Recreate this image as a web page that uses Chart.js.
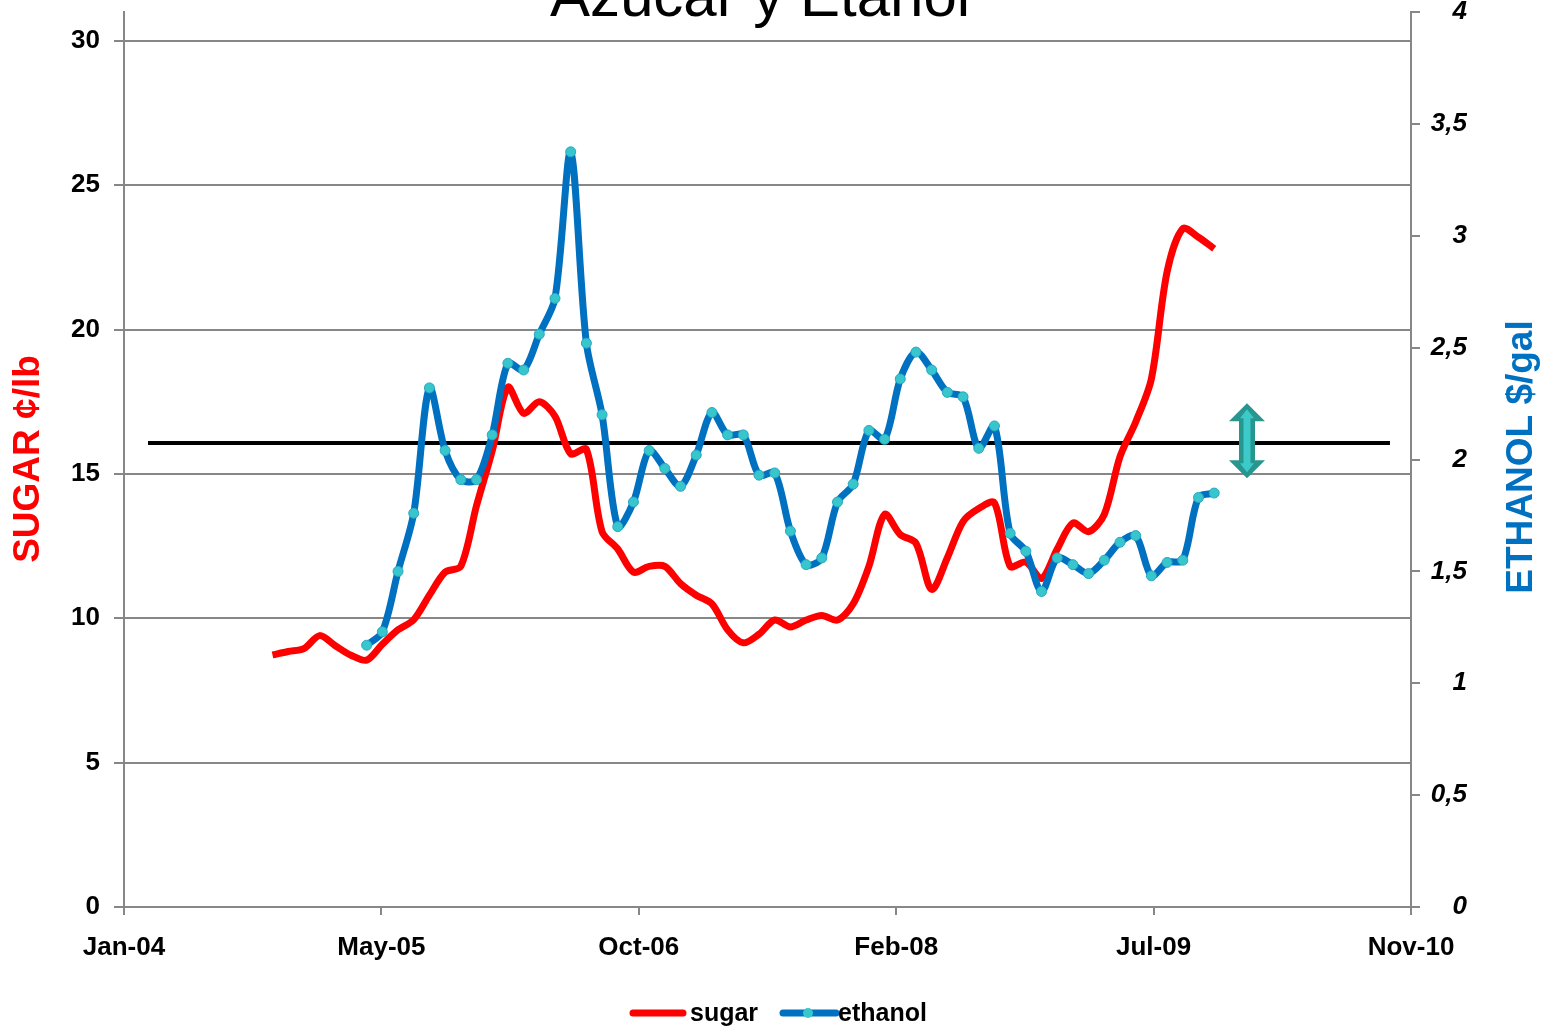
<!DOCTYPE html>
<html>
<head>
<meta charset="utf-8">
<script src="https://cdn.jsdelivr.net/npm/chart.js@4.4.1/dist/chart.umd.min.js"></script>
<style>
  html, body { margin: 0; padding: 0; background: #fff; }
  canvas { display: block; }
</style>
</head>
<body>
<canvas id="chart" width="1547" height="1028"></canvas>
<script>
// months counted from Jan-04
const xTickMonths = [0, 16.4, 32.8, 49.2, 65.6, 82];
const xTickLabels = ['Jan-04', 'May-05', 'Oct-06', 'Feb-08', 'Jul-09', 'Nov-10'];

const sugarTicks = [0, 5, 10, 15, 20, 25, 30];
const ethanolTicks = [0, 0.5, 1, 1.5, 2, 2.5, 3, 3.5, 4];

// monthly sugar, Oct-04 .. Oct-09 (c/lb)
const sugarStart = 9.46;
const sugar = [
    8.73, 8.85, 8.95, 9.4, 9.05, 8.72, 8.55, 9.1, 9.6, 9.95,
    10.8, 11.6, 11.8, 13.9, 15.8, 18.0, 17.1, 17.5, 17.0, 15.7,
    15.85, 13.0, 12.4, 11.6, 11.8, 11.8, 11.2, 10.8, 10.5, 9.6,
    9.15, 9.45, 9.94, 9.7, 9.94, 10.1, 9.94, 10.5, 11.8, 13.6,
    12.9, 12.6, 11.0, 12.1, 13.35, 13.8, 14.0, 11.8, 11.95, 11.38,
    12.4, 13.3, 13.0, 13.6, 15.6, 16.8, 18.3, 22.0, 23.5, 23.2,
    22.8
];

// monthly ethanol, Apr-05 .. Oct-09 ($/gal)
const ethanolStart = 15.46;
const ethanol = [
    1.17, 1.23, 1.50, 1.76, 2.32, 2.04, 1.91, 1.91, 2.11, 2.43,
    2.40, 2.56, 2.72, 3.375, 2.52, 2.20, 1.70, 1.81, 2.04, 1.96,
    1.88, 2.02, 2.21, 2.11, 2.11, 1.93, 1.94, 1.68, 1.53, 1.56,
    1.81, 1.89, 2.13, 2.09, 2.36, 2.48, 2.40, 2.30, 2.28, 2.05,
    2.15, 1.67, 1.59, 1.41, 1.56, 1.53, 1.49, 1.55, 1.63, 1.66,
    1.48, 1.54, 1.55, 1.83, 1.85
];

// black parity line (sugar axis) and the arrow next to it
const parityMonths = [1.53, 80.66];
const parityLevel = 16.07;
const arrowMonth = 71.55;
const arrowRange = [14.85, 17.45];

const FONT = "'Liberation Sans', Arial, sans-serif";
const GRAY = '#878787';

const toPoints = (start, values) => values.map((v, i) => ({ x: start + i, y: v }));

const overlay = {
    id: 'overlay',
    beforeDraw(chart) {
        const { ctx, width, height } = chart;
        ctx.save();
        ctx.fillStyle = '#fff';
        ctx.fillRect(0, 0, width, height);
        ctx.restore();
    },
    afterDraw(chart) {
        const { ctx } = chart;
        const xs = chart.scales.x;
        const ys = chart.scales.y;
        ctx.save();

        // title, cut off at the top edge
        ctx.fillStyle = '#000';
        ctx.font = `60px ${FONT}`;
        ctx.textAlign = 'center';
        ctx.textBaseline = 'alphabetic';
        ctx.fillText('Azúcar y Etanol', 760, 16);

        // axis titles
        ctx.font = `bold 37px ${FONT}`;
        ctx.textBaseline = 'middle';
        ctx.save();
        ctx.translate(29, 459);
        ctx.rotate(-Math.PI / 2);
        ctx.fillStyle = '#ff0000';
        ctx.fillText('SUGAR ¢/lb', 0, 0);
        ctx.restore();
        ctx.save();
        ctx.translate(1522, 457);
        ctx.rotate(-Math.PI / 2);
        ctx.fillStyle = '#0070c0';
        ctx.fillText('ETHANOL $/gal', 0, 0);
        ctx.restore();

        // double arrow
        const ax = xs.getPixelForValue(arrowMonth);
        const top = ys.getPixelForValue(arrowRange[1]);
        const bot = ys.getPixelForValue(arrowRange[0]);
        const arrow = (hw, hh, sw, t, b) => {
            ctx.beginPath();
            ctx.moveTo(ax, t);
            ctx.lineTo(ax + hw, t + hh);
            ctx.lineTo(ax + sw, t + hh);
            ctx.lineTo(ax + sw, b - hh);
            ctx.lineTo(ax + hw, b - hh);
            ctx.lineTo(ax, b);
            ctx.lineTo(ax - hw, b - hh);
            ctx.lineTo(ax - sw, b - hh);
            ctx.lineTo(ax - sw, t + hh);
            ctx.lineTo(ax - hw, t + hh);
            ctx.closePath();
            ctx.fill();
        };
        ctx.fillStyle = '#27968f';
        arrow(18, 18, 8, top, bot);
        ctx.fillStyle = '#3cc9c9';
        arrow(7, 9, 3.5, top + 6, bot - 6);

        // legend
        ctx.lineCap = 'round';
        ctx.lineWidth = 7;
        ctx.strokeStyle = '#ff0000';
        ctx.beginPath();
        ctx.moveTo(633, 1013);
        ctx.lineTo(683, 1013);
        ctx.stroke();
        ctx.strokeStyle = '#0070c0';
        ctx.beginPath();
        ctx.moveTo(783, 1013);
        ctx.lineTo(836, 1013);
        ctx.stroke();
        ctx.fillStyle = '#36c6cc';
        ctx.beginPath();
        ctx.arc(808, 1013, 5, 0, Math.PI * 2);
        ctx.fill();
        ctx.fillStyle = '#000';
        ctx.font = `bold 25px ${FONT}`;
        ctx.textAlign = 'left';
        ctx.textBaseline = 'alphabetic';
        ctx.fillText('sugar', 690, 1021);
        ctx.fillText('ethanol', 838, 1021);

        ctx.restore();
    }
};

const tickFont = { family: FONT, size: 26, weight: 'bold' };

new Chart(document.getElementById('chart'), {
    type: 'line',
    data: {
        datasets: [
            {
                label: 'ethanol',
                data: toPoints(ethanolStart, ethanol),
                yAxisID: 'y1',
                borderColor: '#0070c0',
                borderWidth: 7,
                tension: 0.3,
                pointRadius: 5,
                pointBackgroundColor: '#36c6cc',
                pointBorderColor: '#2aa8c4',
                pointBorderWidth: 1,
                order: 1,
            },
            {
                label: 'sugar',
                data: toPoints(sugarStart, sugar),
                yAxisID: 'y',
                borderColor: '#ff0000',
                borderWidth: 7,
                tension: 0.3,
                pointRadius: 0,
                order: 2,
            },
            {
                label: 'parity',
                data: parityMonths.map(m => ({ x: m, y: parityLevel })),
                yAxisID: 'y',
                borderColor: '#000',
                borderWidth: 4,
                pointRadius: 0,
                order: 3,
            },
        ],
    },
    options: {
        responsive: false,
        animation: false,
        events: [],
        layout: { padding: { top: 12, left: 0, right: 80, bottom: 0 } },
        plugins: {
            legend: { display: false },
            title: { display: false },
            tooltip: { enabled: false },
        },
        scales: {
            x: {
                type: 'linear',
                min: 0,
                max: 82,
                afterBuildTicks: s => { s.ticks = xTickMonths.map(v => ({ value: v })); },
                afterFit: s => { s.height = 121; s.paddingLeft = 0; s.paddingRight = 0; },
                ticks: {
                    font: tickFont,
                    color: '#000',
                    maxRotation: 0,
                    autoSkip: false,
                    padding: 17,
                    callback: (v, i) => xTickLabels[i],
                },
                grid: { drawOnChartArea: false, color: GRAY, lineWidth: 2, tickLength: 8 },
                border: { color: GRAY, width: 2 },
            },
            y: {
                position: 'left',
                min: 0,
                max: 31,
                afterBuildTicks: s => { s.ticks = sugarTicks.map(v => ({ value: v })); },
                afterFit: s => { s.width = 124; s.paddingTop = 0; s.paddingBottom = 0; },
                ticks: { font: tickFont, color: '#000', padding: 14 },
                grid: { color: GRAY, lineWidth: 2, tickLength: 10 },
                border: { color: GRAY, width: 2 },
            },
            y1: {
                position: 'right',
                min: 0,
                max: 4,
                afterBuildTicks: s => { s.ticks = ethanolTicks.map(v => ({ value: v })); },
                afterFit: s => { s.width = 56; s.paddingTop = 0; s.paddingBottom = 0; },
                ticks: {
                    font: { family: FONT, size: 26, weight: 'bold', style: 'italic' },
                    color: '#000',
                    padding: 10,
                    crossAlign: 'far',
                    callback: v => String(v).replace('.', ','),
                },
                grid: { drawOnChartArea: false, color: GRAY, lineWidth: 2, tickLength: 9 },
                border: { color: GRAY, width: 2 },
            },
        },
    },
    plugins: [overlay],
});
</script>
</body>
</html>
